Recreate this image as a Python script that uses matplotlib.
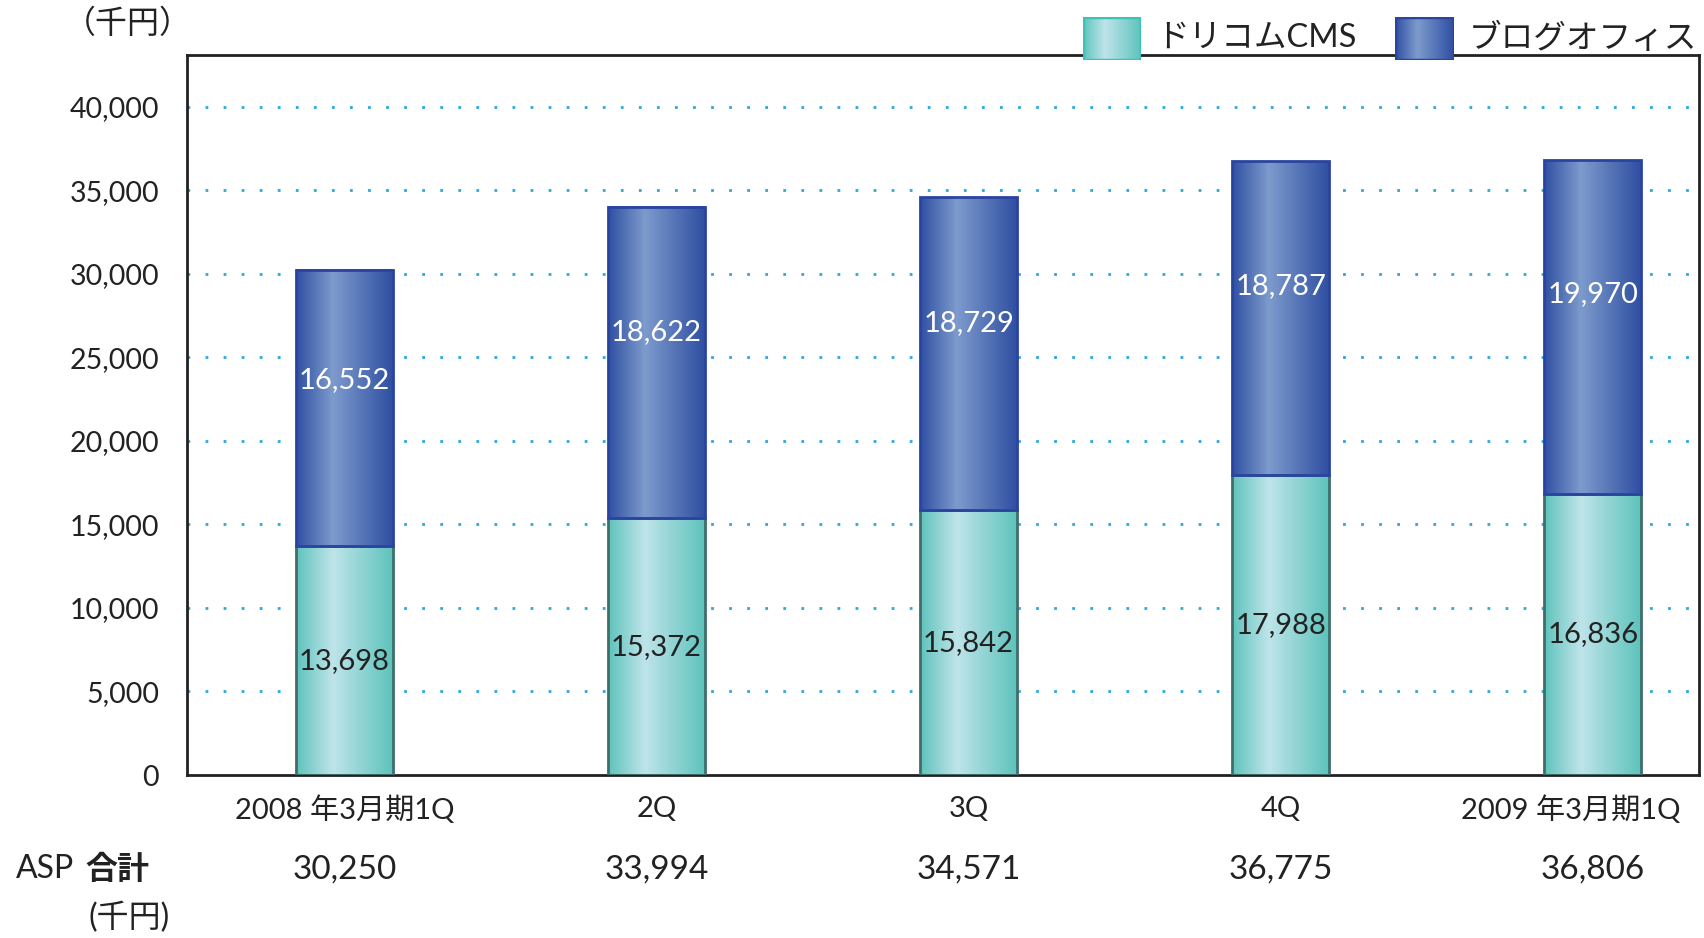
import numpy as np
import matplotlib
matplotlib.use("Agg")
import matplotlib.pyplot as plt
from matplotlib.colors import LinearSegmentedColormap
from matplotlib.patches import Rectangle
from matplotlib.transforms import ScaledTranslation

plt.rcParams['font.family'] = ['Lato', 'Noto Sans CJK JP', 'DejaVu Sans']

quarters = ["2008 年3月期1Q", "2Q", "3Q", "4Q", "2009 年3月期1Q"]
cms = [13698, 15372, 15842, 17988, 16836]
blog = [16552, 18622, 18729, 18787, 19970]
totals = [30250, 33994, 34571, 36775, 36806]
series_names = ["ドリコムCMS", "ブログオフィス"]

W, H = 1704, 938
fig = plt.figure(figsize=(W / 100, H / 100), dpi=100)
ax = fig.add_axes([187 / W, 1 - 775 / H, (1699 - 187) / W, (775 - 55) / H])


def grad_cmap(edge, mid):
    return LinearSegmentedColormap.from_list("g", [(0, edge), (0.38, mid), (1, edge)])


cms_cmap = grad_cmap("#5ec3bc", "#bfe4ea")
blog_cmap = grad_cmap("#2f4fa2", "#7d9bcc")
grad = np.linspace(0, 1, 256).reshape(1, -1)


def fill_gradient(target, x0, x1, y0, y1, cmap, edge, lw=2.0):
    target.imshow(grad, cmap=cmap, extent=(x0, x1, y0, y1), aspect="auto",
                  interpolation="bicubic", zorder=2)
    target.add_patch(Rectangle((x0, y0), x1 - x0, y1 - y0, fill=False,
                               edgecolor=edge, lw=lw, zorder=3))


x = np.arange(len(quarters))
width = 0.31
b1 = ax.bar(x, cms, width, color="none", edgecolor="none")
b2 = ax.bar(x, blog, width, bottom=cms, color="none", edgecolor="none")

for p in b1.patches:
    fill_gradient(ax, p.get_x(), p.get_x() + p.get_width(), p.get_y(),
                  p.get_y() + p.get_height(), cms_cmap, "#3f6e6b")
for p in b2.patches:
    fill_gradient(ax, p.get_x(), p.get_x() + p.get_width(), p.get_y(),
                  p.get_y() + p.get_height(), blog_cmap, "#2a44a0")

for xi, c, b in zip(x, cms, blog):
    ax.text(xi, c * 0.5, f"{c:,}", ha="center", va="center", fontsize=21,
            color="#222222", zorder=4)
    ax.text(xi, c + b * 0.6, f"{b:,}", ha="center", va="center", fontsize=21,
            color="white", zorder=4)

ax.set_xlim(-0.504, 4.34)
ax.set_ylim(0, 43100)
ax.set_yticks(range(0, 40001, 5000))
ax.set_yticklabels([f"{v:,}" for v in range(0, 40001, 5000)])
ax.set_xticks(x)
ax.set_xticklabels(quarters)
ax.tick_params(axis="y", length=0, pad=20, labelsize=20.5, colors="#222222")
ax.tick_params(axis="x", length=0, pad=15, labelsize=21, colors="#222222")

# last quarter label sits a little left of its bar so it stays inside the figure
last = ax.get_xticklabels()[-1]
last.set_transform(last.get_transform() + ScaledTranslation(-0.22, 0, fig.dpi_scale_trans))

for v in range(5000, 40001, 5000):
    ax.axhline(v, color="#2aa8e0", lw=2, linestyle=(0, (1, 5.5)), zorder=1)

for s in ax.spines.values():
    s.set_color("#222222")
    s.set_linewidth(2)

# unit labels and totals row
ax.text(-0.039, 1.043, "（千円）", transform=ax.transAxes, ha="center",
        va="center", fontsize=23, color="#222222")
ax.text(-0.113, -0.1306, "ASP", transform=ax.transAxes, ha="left",
        va="center", fontsize=23, color="#222222")
ax.text(-0.067, -0.1306, "合計", transform=ax.transAxes, ha="left",
        va="center", fontsize=23, color="#222222", fontweight="bold")
ax.text(-0.038, -0.1986, "(千円)", transform=ax.transAxes, ha="center",
        va="center", fontsize=23, color="#222222")
for xi, t in zip(x, totals):
    ax.text(xi, -0.1306, f"{t:,}", transform=ax.get_xaxis_transform(),
            ha="center", va="center", fontsize=24, color="#222222")

# legend
legend_items = [(1083, 1141, series_names[0], cms_cmap, "#3cc2b8"),
                (1395, 1454, series_names[1], blog_cmap, "#2a44a0")]
for lx0, lx1, name, cmap, edge in legend_items:
    lax = fig.add_axes([lx0 / W, 1 - 60 / H, (lx1 - lx0) / W, 43 / H])
    lax.set_axis_off()
    fill_gradient(lax, 0, 1, 0, 1, cmap, edge, lw=2.5)
    lax.set_xlim(0, 1)
    lax.set_ylim(0, 1)
    fig.text((lx1 + 15) / W, 1 - 38 / H, name, ha="left", va="center",
             fontsize=23.5, color="#222222")

fig.savefig("out.png", dpi=100)
